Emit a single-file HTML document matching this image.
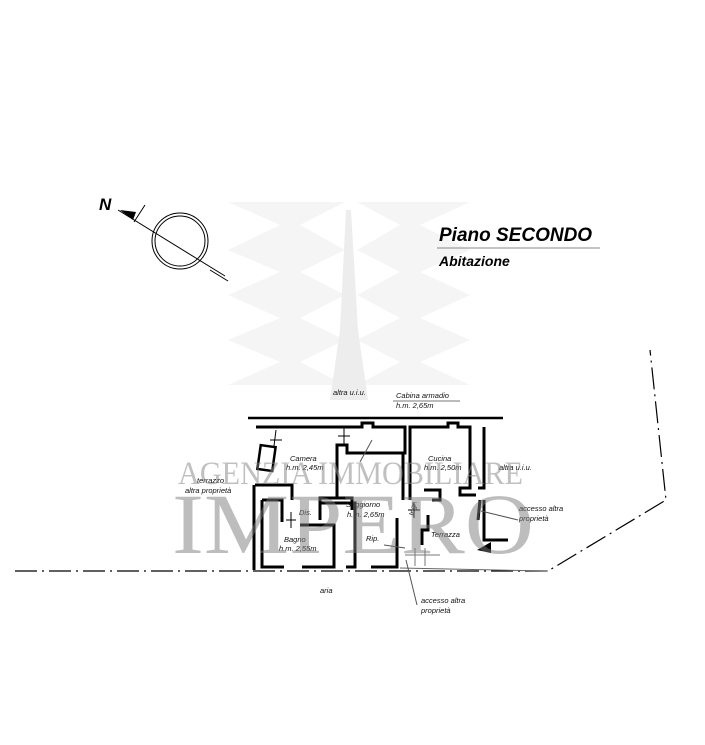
<!DOCTYPE html>
<html><head><meta charset="utf-8"><style>
html,body{margin:0;padding:0;background:#fff;}
svg{display:block;}
.l{font-family:"Liberation Sans",sans-serif;font-size:7.5px;font-style:italic;fill:#111;}
.s{font-family:"Liberation Sans",sans-serif;}
</style></head><body>
<svg width="705" height="745" viewBox="0 0 705 745" xmlns="http://www.w3.org/2000/svg">
<rect width="705" height="745" fill="#fff"/>
<!-- watermark zigzag -->
<g fill="#f5f5f5">
<polygon points="228,202 345,202 300,225 345,250 300,272 345,295 300,318 345,340 300,362 345,385 228,385 280,362 228,340 280,318 228,295 280,272 228,250 280,225"/>
<polygon points="470,202 357,202 400,225 357,250 400,272 357,295 400,318 357,340 400,362 357,385 470,385 420,362 470,340 420,318 470,295 420,272 470,250 420,225"/>
<polygon points="346,210 351,210 358,330 368,400 330,400 340,330" fill="#ededed"/>
</g>
<!-- compass -->
<text class="s" x="99" y="210" font-size="17" font-weight="bold" font-style="italic">N</text>
<line x1="118" y1="210" x2="225" y2="276" stroke="#000" stroke-width="1"/>
<line x1="210" y1="270" x2="228" y2="281" stroke="#000" stroke-width="1"/>
<polygon points="120,210 136,212 133,220" fill="#000"/>
<line x1="134" y1="222" x2="145" y2="205" stroke="#000" stroke-width="1"/>
<circle cx="180" cy="241" r="28" fill="none" stroke="#000" stroke-width="1"/>
<circle cx="180" cy="241" r="25" fill="none" stroke="#000" stroke-width="1"/>
<!-- title -->
<text class="s" x="439" y="241" font-size="19" font-weight="bold" font-style="italic">Piano SECONDO</text>
<line x1="437" y1="248" x2="600" y2="248" stroke="#888" stroke-width="1"/>
<text class="s" x="439" y="266" font-size="14" font-weight="bold" font-style="italic">Abitazione</text>
<!-- dash-dot lines -->
<g stroke="#000" stroke-width="1.2" fill="none" stroke-dasharray="22,5,2,5">
<polyline points="15,571 548,571 666,500 650,350"/>
</g>
<line x1="400" y1="568" x2="548" y2="571" stroke="#666" stroke-width="1"/>
<!-- top boundary -->
<line x1="248" y1="418" x2="503" y2="418" stroke="#000" stroke-width="2.5"/>
<!-- walls -->
<g stroke="#000" stroke-width="3" fill="none" stroke-linejoin="miter">
<polyline points="256,427 362,427 362,423 373,423 373,427 405,427 405,453 347,453 347,445 337,445 337,498 320,498 320,503 340,503"/>
<polyline points="410,500 410,427 448,427 448,423 458,423 458,427 470,427 470,488 460,488 460,495 476,495"/>
<polyline points="484,427 484,488 478,488"/>
<polyline points="403,453 403,500"/>
<polyline points="255,485 292,485 292,500"/>
<polyline points="262,500 282,500 282,522"/>
<polyline points="262,500 262,567 284,567"/>
<polyline points="254,485 254,570"/>
<polyline points="302,567 334,567 334,525 300,525"/>
<polyline points="336,498 352,498 352,510"/>
<polyline points="320,520 320,503"/>
<polyline points="340,503 355,503 355,567 346,567"/>
<polyline points="371,567 397,567 397,518"/>
<polyline points="424,490 440,490 440,500 432,500"/>
<polyline points="428,515 428,530 422,530 422,545"/>
<polyline points="484,500 484,540 508,540"/>
<polyline points="480,500 478,520"/>
</g>
<rect x="259" y="446" width="15" height="24" fill="none" stroke="#000" stroke-width="2.5" transform="rotate(8 266 458)"/>
<!-- small marks -->
<g stroke="#000" stroke-width="1">
<line x1="270" y1="440" x2="282" y2="440"/><line x1="276" y1="430" x2="274" y2="446"/>
<line x1="338" y1="436" x2="350" y2="436"/><line x1="344" y1="428" x2="344" y2="444"/>
<line x1="286" y1="520" x2="296" y2="520"/><line x1="291" y1="512" x2="291" y2="528"/>
<line x1="408" y1="510" x2="420" y2="510"/><line x1="414" y1="502" x2="414" y2="518"/>
<line x1="405" y1="555" x2="440" y2="555" stroke="#777"/>
<line x1="415" y1="548" x2="415" y2="566" stroke="#777"/>
<line x1="425" y1="548" x2="425" y2="566" stroke="#777"/>
<line x1="360" y1="462" x2="372" y2="440" stroke="#555"/>
<line x1="384" y1="545" x2="405" y2="548" stroke="#555"/>
<line x1="481" y1="511" x2="518" y2="520" stroke="#555"/>
<line x1="406" y1="560" x2="417" y2="605" stroke="#555"/>
</g>
<polygon points="477,550 491,542 491,553" fill="#000"/>
<!-- labels -->
<text class="l" x="333" y="395">altra u.i.u.</text>
<text class="l" x="396" y="398">Cabina armadio</text>
<line x1="393" y1="401" x2="460" y2="401" stroke="#777"/>
<text class="l" x="396" y="408">h.m. 2,65m</text>
<text class="l" x="290" y="461">Camera</text>
<text class="l" x="286" y="470">h.m. 2,45m</text>
<text class="l" x="428" y="461">Cucina</text>
<text class="l" x="424" y="470">h.m. 2,50m</text>
<text class="l" x="499" y="470">altra u.i.u.</text>
<text class="l" x="197" y="483">terrazzo</text>
<text class="l" x="185" y="493">altra proprietà</text>
<text class="l" x="346" y="507">Soggiorno</text>
<text class="l" x="347" y="517">h.m. 2,65m</text>
<text class="l" x="299" y="515">Dis.</text>
<text class="l" x="284" y="542">Bagno</text>
<text class="l" x="279" y="551">h.m. 2,55m</text>
<text class="l" x="366" y="541">Rip.</text>
<text class="l" x="431" y="537">Terrazza</text>
<text class="l" transform="translate(414 516) rotate(-80)">Ingr.</text>
<text class="l" x="519" y="511">accesso altra</text>
<text class="l" x="519" y="521">proprietà</text>
<text class="l" x="421" y="603">accesso altra</text>
<text class="l" x="421" y="613">proprietà</text>
<text class="l" x="320" y="593">aria</text>
<!-- watermark text -->
<text x="178" y="484" style="font-family:'Liberation Serif',serif;font-size:33px;fill:#8c8c8c;fill-opacity:0.55" textLength="345" lengthAdjust="spacingAndGlyphs">AGENZIA IMMOBILIARE</text>
<text x="172" y="553" style="font-family:'Liberation Serif',serif;font-size:86px;fill:#7c7c7c;fill-opacity:0.5" textLength="362" lengthAdjust="spacingAndGlyphs">IMPERO</text>
</svg>
</body></html>
